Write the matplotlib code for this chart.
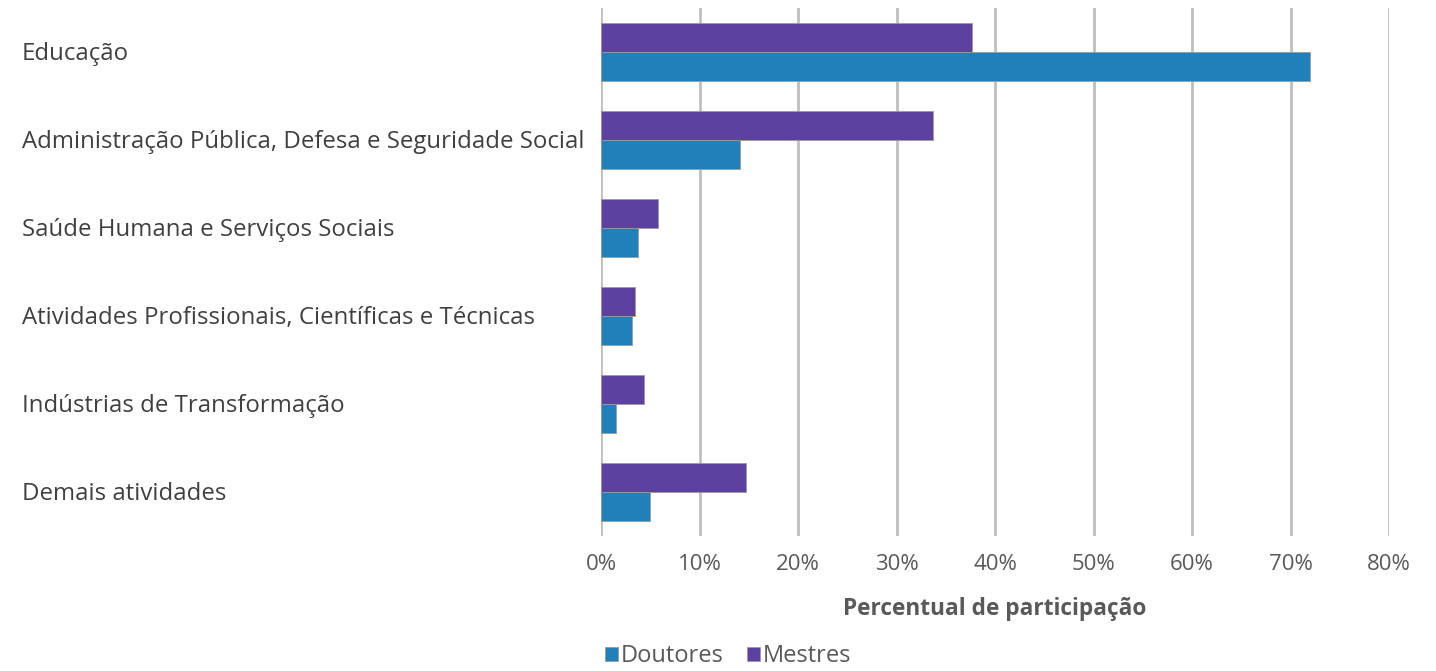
import numpy as np
import matplotlib
matplotlib.use('Agg')
import matplotlib.pyplot as plt
import matplotlib.transforms as mtransforms

# categories from top to bottom
categorias = ['Educação',
              'Administração Pública, Defesa e Seguridade Social',
              'Saúde Humana e Serviços Sociais',
              'Atividades Profissionais, Científicas e Técnicas',
              'Indústrias de Transformação',
              'Demais atividades']
doutores = [72.0, 14.1, 3.8, 3.15, 1.5, 5.0]
mestres = [37.7, 33.7, 5.8, 3.45, 4.4, 14.7]
ticks = [0, 10, 20, 30, 40, 50, 60, 70, 80]

plt.rcParams['font.family'] = ['Open Sans', 'DejaVu Sans']

c_dout = '#2180B9'
c_mest = '#5D41A0'
cinza = '#595959'

fig = plt.figure(figsize=(14.36, 6.71), dpi=100)
ax = fig.add_axes([601 / 1436, 1 - 536 / 671, (1389 - 601) / 1436, (536 - 8) / 671])

y = np.arange(len(categorias))
h = 0.33
ax.barh(y + h / 2, doutores, height=h, color=c_dout, edgecolor='#9a9a9a',
        linewidth=0.6, label='Doutores', zorder=3)
ax.barh(y - h / 2, mestres, height=h, color=c_mest, edgecolor='#9a9a9a',
        linewidth=0.6, label='Mestres', zorder=3)

ax.set_ylim(len(categorias) - 0.5, -0.5)
ax.set_xlim(0, 80)
ax.set_xticks(ticks)
ax.set_xticklabels(['%d%%' % t for t in ticks], fontsize=16, color=cinza)
ax.tick_params(axis='x', length=0, pad=13)
ax.set_yticks([])
for s in ax.spines.values():
    s.set_visible(False)
ax.grid(axis='x', color='#BFBFBF', linewidth=2, zorder=0)

trans = mtransforms.blended_transform_factory(fig.transFigure, ax.transData)
for i, cat in enumerate(categorias):
    ax.text(22 / 1436, i + 0.02, cat, transform=trans, ha='left', va='center',
            fontsize=17.3, color='#404040')

ax.set_xlabel('Percentual de participação', fontsize=16.3, fontweight='bold',
              color=cinza, labelpad=16)

handles, labels = ax.get_legend_handles_labels()
fig.legend(handles, labels, loc='center', bbox_to_anchor=(728 / 1436, 1 - 656 / 671),
           ncol=2, frameon=False, fontsize=17, labelcolor=cinza,
           handlelength=0.55, handleheight=0.55, handletextpad=0.1, columnspacing=1.0)

fig.savefig('out.png', dpi=100)
